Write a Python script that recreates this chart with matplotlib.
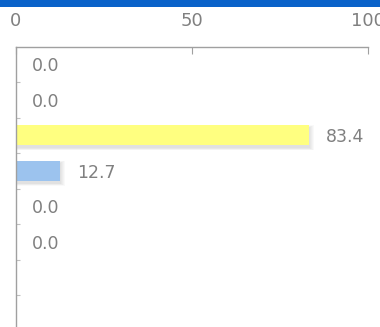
import matplotlib
matplotlib.use("Agg")
import matplotlib.pyplot as plt
from matplotlib.patches import Rectangle

# --- Data ---
categories = ["A", "B", "C", "D", "E", "F", "G", "H"]
values = [0.0, 0.0, 83.4, 12.7, 0.0, 0.0, None, None]
bar_colors = ["#9cc3ee", "#9cc3ee", "#ffff80", "#9cc3ee", "#9cc3ee", "#9cc3ee", "#9cc3ee", "#9cc3ee"]
x_ticks = [0, 50, 100]

W, H = 380, 327
fig = plt.figure(figsize=(W / 100, H / 100), dpi=100)

# blue header strip
fig.patches.append(Rectangle((0, 1 - 6.5 / H), 1, 6.5 / H, transform=fig.transFigure,
                             facecolor="#0a62c9", edgecolor="none", zorder=0))

left, right, top, bottom = 15.5, 368, 46.5, 330.5
ax = fig.add_axes([left / W, (H - bottom) / H, (right - left) / W, (bottom - top) / H])

pos = list(range(len(categories)))
vals = [v if v is not None else 0 for v in values]
bar_h = 0.56
px_y = 1 / 35.5   # one pixel in row units
px_x = 100 / 352.5  # one pixel in value units

# soft shadow under the bars (only where there is a bar)
sh_pos = [p for p, v in zip(pos, vals) if v > 0]
sh_vals = [v for v in vals if v > 0]
for grow in [5, 4, 3, 2, 1]:
    ax.barh([p + 2.5 * px_y for p in sh_pos], [v + grow * px_x for v in sh_vals],
            height=bar_h + grow * px_y, left=0,
            color="black", alpha=0.025, linewidth=0, zorder=1)
ax.barh(pos, vals, height=bar_h, color=bar_colors, linewidth=0, zorder=2)

for p, v in zip(pos, values):
    if v is None:
        continue
    ax.annotate(f"{v:.1f}", xy=(v, p), xytext=(12, -1.5), textcoords="offset points",
                ha="left", va="center", fontsize=12.5, color="#808080")

ax.set_xlim(0, 100)
ax.set_ylim(len(categories) - 0.5, -0.5)
ax.xaxis.tick_top()
ax.set_xticks(x_ticks)
ax.set_xticklabels([str(t) for t in x_ticks])
ax.tick_params(axis="x", direction="in", length=5, color="#a0a0a0", labelsize=13,
               labelcolor="#808080", pad=12)
ax.set_yticks([p + 0.5 for p in pos[:-1]])
ax.set_yticklabels([])
ax.tick_params(axis="y", direction="in", length=3, color="#c0c0c0")

for s in ["right", "bottom"]:
    ax.spines[s].set_visible(False)
for s in ["top", "left"]:
    ax.spines[s].set_color("#a0a0a0")
    ax.spines[s].set_linewidth(1)

fig.savefig("out.png", dpi=100)
